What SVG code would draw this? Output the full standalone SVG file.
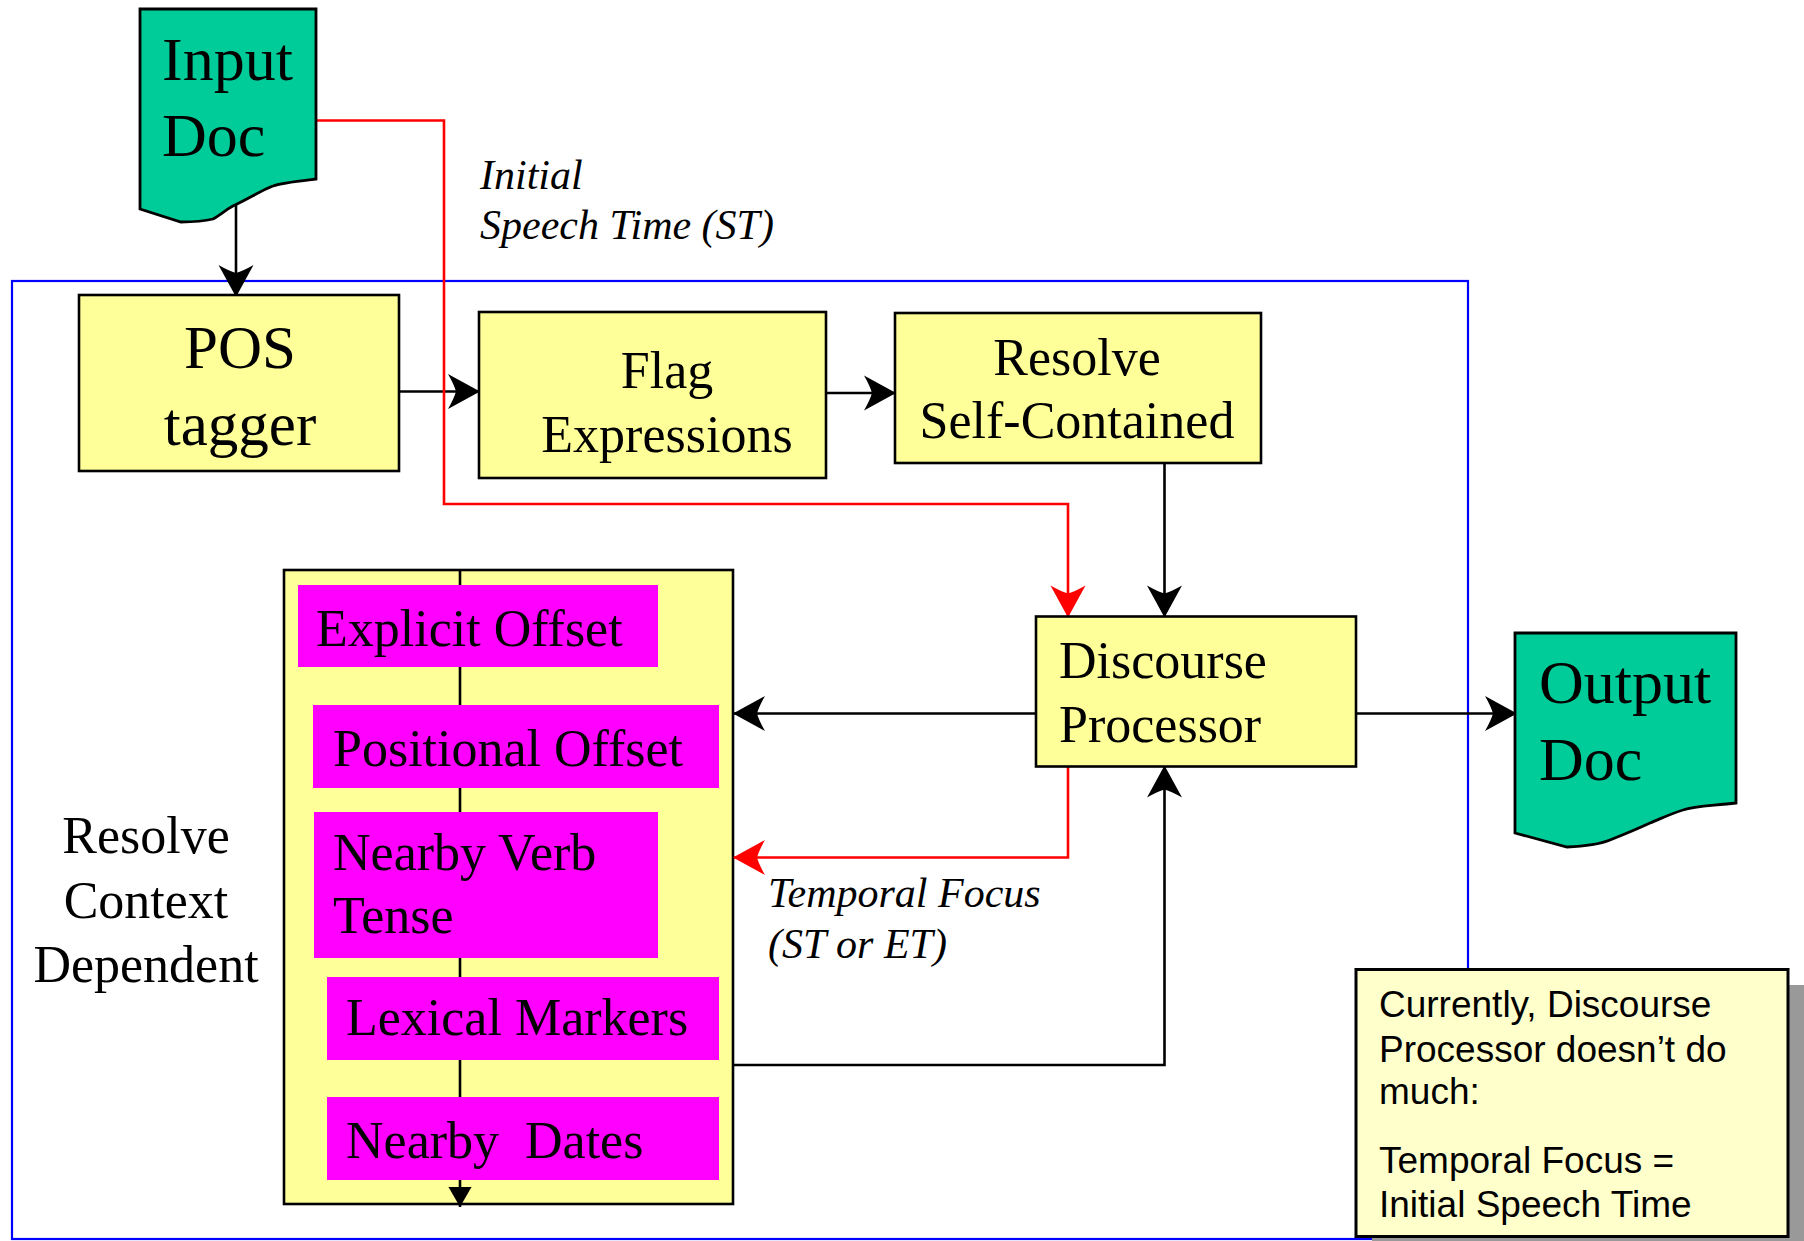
<svg xmlns="http://www.w3.org/2000/svg" width="1804" height="1241" viewBox="0 0 1804 1241">
<style>
.bg{fill:#ffffff}
.frame{fill:none;stroke:#0000ff;stroke-width:2.2}
.doc{fill:#00cc99;stroke:#000;stroke-width:2.8}
.box{fill:#ffff99;stroke:#000;stroke-width:2.6}
.mag{fill:#ff00ff;stroke:none}
.note{fill:#ffffcc;stroke:#000;stroke-width:3}
.shadow{fill:#999999}
.s{font-family:"Liberation Serif","Times New Roman",serif;fill:#000}
.big{font-size:62px}
.mid{font-size:52px}
.pos{font-size:61px}
.it{font-family:"Liberation Serif","Times New Roman",serif;font-style:italic;font-size:42px;fill:#000}
.sans{font-family:"Liberation Sans",Arial,sans-serif;font-size:37px;fill:#000}
.c{text-anchor:middle}
.blk{fill:none;stroke:#000;stroke-width:2.6}
.red{fill:none;stroke:#ff0000;stroke-width:2.6}
</style>
<defs>
<marker id="ab" markerUnits="userSpaceOnUse" viewBox="-33 -19 35 38" refX="0" refY="0" markerWidth="35" markerHeight="38" orient="auto">
<path d="M1,0 L-31,-17.5 Q-25,-7 -23,0 Q-25,7 -31,17.5 Z" fill="#000"/>
</marker>
<marker id="ar" markerUnits="userSpaceOnUse" viewBox="-33 -19 35 38" refX="0" refY="0" markerWidth="35" markerHeight="38" orient="auto">
<path d="M1,0 L-31,-17.5 Q-25,-7 -23,0 Q-25,7 -31,17.5 Z" fill="#ff0000"/>
</marker>
<marker id="tri" markerUnits="userSpaceOnUse" viewBox="-22 -13 24 26" refX="0" refY="0" markerWidth="24" markerHeight="26" orient="auto">
<path d="M0,0 L-20,-11.5 L-20,11.5 Z" fill="#000"/>
</marker>
</defs>
<rect class="bg" x="0" y="0" width="1804" height="1241"/>

<g id="frame-context">
<rect class="frame" x="12" y="281" width="1456" height="958"/>
</g>

<g id="resolve-context-dependent">
<rect class="box" x="284" y="570" width="449" height="634"/>
<text class="s mid c" x="146" y="853">Resolve</text>
<text class="s mid c" x="146" y="918">Context</text>
<text class="s mid c" x="146" y="982">Dependent</text>
</g>

<g id="connectors">
<path class="blk" d="M460,570 V1207" marker-end="url(#tri)"/>
<path class="blk" d="M236,204 V296" marker-end="url(#ab)"/>
<path class="blk" d="M399,391.5 H479" marker-end="url(#ab)"/>
<path class="blk" d="M826,393 H895" marker-end="url(#ab)"/>
<path class="blk" d="M1164.5,463 V616.5" marker-end="url(#ab)"/>
<path class="red" d="M316,120.5 H444 V504 H1068 V616.5" marker-end="url(#ar)"/>
<path class="blk" d="M1036,713.5 H734" marker-end="url(#ab)"/>
<path class="red" d="M1068,766 V857.5 H734" marker-end="url(#ar)"/>
<path class="blk" d="M733,1065 H1164.5 V766.5" marker-end="url(#ab)"/>
<path class="blk" d="M1356,713.5 H1516" marker-end="url(#ab)"/>
</g>

<g id="input-doc">
<path class="doc" d="M140,9 H316 V179 C290,182 280,183 273,186 C262,190 250,198 235,205 C228,208 222,214 213,219 C205,221 195,222 181,222 L140,209 Z"/>
<text class="s big" x="162" y="80">Input</text>
<text class="s big" x="162" y="156">Doc</text>
</g>

<g id="initial-label">
<text class="it" x="480" y="189">Initial</text>
<text class="it" x="480" y="239">Speech Time (ST)</text>
</g>

<g id="pos-tagger">
<rect class="box" x="79" y="295" width="320" height="176"/>
<text class="s pos c" x="240" y="368">POS</text>
<text class="s pos c" x="240" y="445">tagger</text>
</g>

<g id="flag-expressions">
<rect class="box" x="479" y="312" width="347" height="166"/>
<text class="s mid c" x="667" y="388">Flag</text>
<text class="s mid c" x="667" y="452">Expressions</text>
</g>

<g id="resolve-self-contained">
<rect class="box" x="895" y="313" width="366" height="150"/>
<text class="s mid c" x="1077" y="375">Resolve</text>
<text class="s mid c" x="1077" y="438">Self-Contained</text>
</g>

<g id="discourse-processor">
<rect class="box" x="1036" y="616.5" width="320" height="150"/>
<text class="s mid" x="1059" y="678">Discourse</text>
<text class="s mid" x="1059" y="742">Processor</text>
</g>

<g id="output-doc">
<path class="doc" d="M1515,633 H1736 V803 C1710,806 1695,806 1683,810 C1670,814 1660,819 1650,823 C1635,830 1620,836 1610,840 C1600,844 1590,846 1567,847 L1515,833 Z"/>
<text class="s big" x="1539" y="703">Output</text>
<text class="s big" x="1539" y="780">Doc</text>
</g>

<g id="explicit-offset">
<rect class="mag" x="298" y="585" width="360" height="82"/>
<text class="s mid" x="316" y="646">Explicit Offset</text>
</g>

<g id="positional-offset">
<rect class="mag" x="313" y="705" width="406" height="83"/>
<text class="s mid" x="333" y="766">Positional Offset</text>
</g>

<g id="nearby-verb-tense">
<rect class="mag" x="314" y="812" width="344" height="146"/>
<text class="s mid" x="333" y="870">Nearby Verb</text>
<text class="s mid" x="333" y="933">Tense</text>
</g>

<g id="lexical-markers">
<rect class="mag" x="327" y="977" width="392" height="83"/>
<text class="s mid" x="346" y="1035">Lexical Markers</text>
</g>

<g id="nearby-dates">
<rect class="mag" x="327" y="1097" width="392" height="83"/>
<text class="s mid" x="346" y="1158" xml:space="preserve">Nearby  Dates</text>
</g>

<g id="temporal-focus-label">
<text class="it" x="768" y="907">Temporal Focus</text>
<text class="it" x="768" y="958">(ST or ET)</text>
</g>

<g id="note">
<rect class="shadow" x="1372" y="985" width="432" height="267"/>
<rect class="note" x="1356" y="969.5" width="432" height="267"/>
<text class="sans" x="1379" y="1017">Currently, Discourse</text>
<text class="sans" x="1379" y="1062">Processor doesn’t do</text>
<text class="sans" x="1379" y="1104">much:</text>
<text class="sans" x="1379" y="1173">Temporal Focus =</text>
<text class="sans" x="1379" y="1217">Initial Speech Time</text>
</g>
</svg>
